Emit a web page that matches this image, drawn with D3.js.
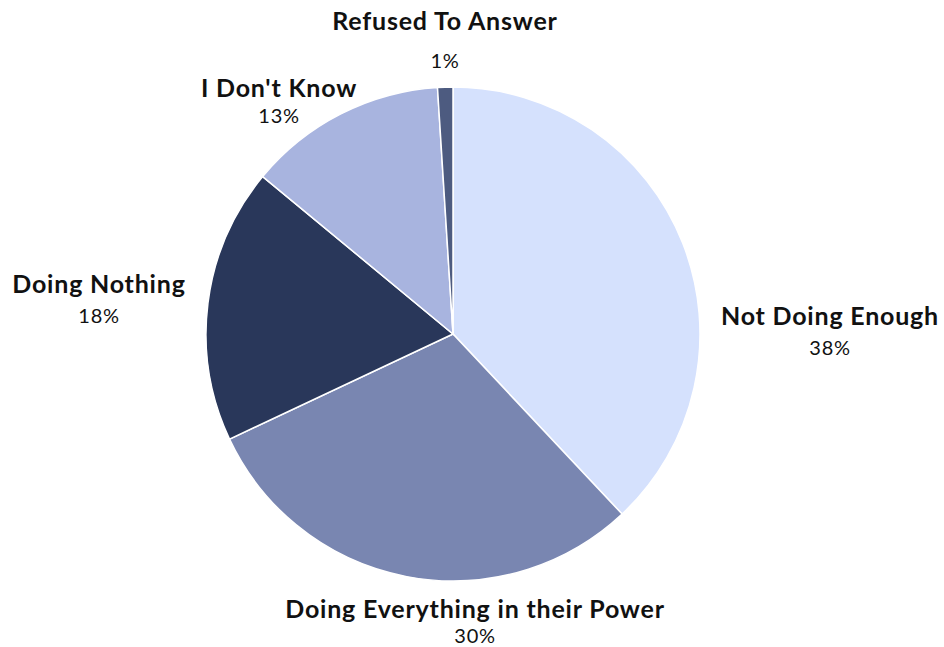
<!DOCTYPE html>
<html><head><meta charset="utf-8">
<script src="https://cdn.jsdelivr.net/npm/d3@7"></script>
<style>body{margin:0;background:#fff}svg{display:block}</style>
</head><body>
<svg id="chart" width="944" height="647"></svg>
<script>
const categories = ["Not Doing Enough","Doing Everything in their Power","Doing Nothing","I Don't Know","Refused To Answer"];
const values = [38, 30, 18, 13, 1];
const colors = ["#d5e1fd","#7986b1","#29375a","#a8b4df","#4d5b80"];
// label layout (annotation positions, not data)
const labelPos = [[830,325],[475,618],[99,293],[279,97],[445,30]];
const pctGap = [30,25,30,26,38];

const W=944,H=647,cx=453,cy=334,r=247;
const svg=d3.select("#chart");
const data=categories.map((c,i)=>({cat:c,val:values[i],color:colors[i],lp:labelPos[i],gap:pctGap[i]}));
const pie=d3.pie().value(d=>d.val).sort(null);
const arc=d3.arc().innerRadius(0).outerRadius(r);
const g=svg.append("g").attr("transform",`translate(${cx},${cy})`);
g.selectAll("path").data(pie(data)).join("path")
 .attr("d",arc).attr("fill",d=>d.data.color).attr("stroke","#fff").attr("stroke-width",1.5);
const font="Lato, sans-serif";
const lg=svg.append("g");
data.forEach(d=>{
  lg.append("text").attr("x",d.lp[0]).attr("y",d.lp[1]).attr("text-anchor","middle")
    .attr("font-family",font).attr("font-weight",700).attr("font-size",25)
    .attr("letter-spacing",0.8).attr("fill","#111")
    .text(d.cat);
  lg.append("text").attr("x",d.lp[0]).attr("y",d.lp[1]+d.gap).attr("text-anchor","middle")
    .attr("font-family",font).attr("font-weight",400).attr("font-size",20)
    .attr("letter-spacing",0.7).attr("fill","#111")
    .text(d.val+"%");
});
</script>
</body></html>
